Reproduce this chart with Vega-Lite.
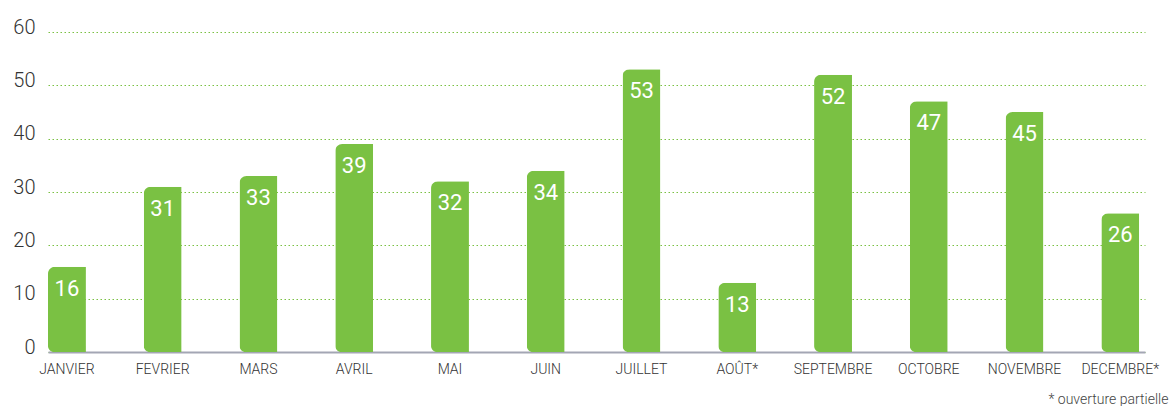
{
  "$schema": "https://vega.github.io/schema/vega-lite/v6.json",
  "autosize": {"type": "none"},
  "padding": {"left": 48, "top": 32, "right": 25, "bottom": 54},
  "width": 1097,
  "height": 320,
  "background": "white",
  "config": {"view": {"stroke": null}, "font": "Roboto"},
  "data": {
    "values": [
      {"mois": "JANVIER", "visites": 16},
      {"mois": "FEVRIER", "visites": 31},
      {"mois": "MARS", "visites": 33},
      {"mois": "AVRIL", "visites": 39},
      {"mois": "MAI", "visites": 32},
      {"mois": "JUIN", "visites": 34},
      {"mois": "JUILLET", "visites": 53},
      {"mois": "AOÛT*", "visites": 13},
      {"mois": "SEPTEMBRE", "visites": 52},
      {"mois": "OCTOBRE", "visites": 47},
      {"mois": "NOVEMBRE", "visites": 45},
      {"mois": "DECEMBRE*", "visites": 26}
    ]
  },
  "encoding": {
    "x": {
      "field": "mois",
      "type": "nominal",
      "sort": null,
      "scale": {"paddingInner": 0.604, "paddingOuter": 0.03, "align": 0},
      "axis": {
        "title": "* ouverture partielle",
        "titleFont": "Roboto",
        "titleFontSize": 14,
        "titleFontWeight": 300,
        "titleColor": "#444444",
        "titleAnchor": "end",
        "titleAlign": "right",
        "titleBaseline": "alphabetic",
        "titleX": 1120,
        "titleY": 51,
        "labelAngle": 0,
        "labelFontSize": 14,
        "labelFontWeight": 300,
        "labelColor": "#333333",
        "labelBaseline": "alphabetic",
        "labelPadding": 21,
        "ticks": false,
        "tickSize": 0,
        "domainColor": "#A3A6B4",
        "domainWidth": 2,
        "grid": false
      }
    },
    "y": {
      "field": "visites",
      "type": "quantitative",
      "scale": {"domain": [0, 60]},
      "axis": {
        "title": null,
        "values": [0, 10, 20, 30, 40, 50, 60],
        "domain": false,
        "ticks": false,
        "tickSize": 0,
        "labelPadding": 13,
        "labelFontSize": 20,
        "labelFontWeight": 300,
        "labelColor": "#333333",
        "labelBaseline": "alphabetic",
        "labelOffset": 1,
        "grid": true,
        "gridColor": "#7AC143",
        "gridDash": [1.5, 2.5],
        "gridWidth": 1
      }
    }
  },
  "layer": [
    {
      "mark": {
        "type": "bar",
        "color": "#7AC143",
        "cornerRadiusTopLeft": 7,
        "cornerRadiusBottomLeft": 6
      }
    },
    {
      "mark": {
        "type": "text",
        "color": "white",
        "fontSize": 22,
        "fontWeight": "normal",
        "baseline": "middle",
        "dy": 22
      },
      "encoding": {"text": {"field": "visites", "type": "quantitative"}}
    }
  ]
}
